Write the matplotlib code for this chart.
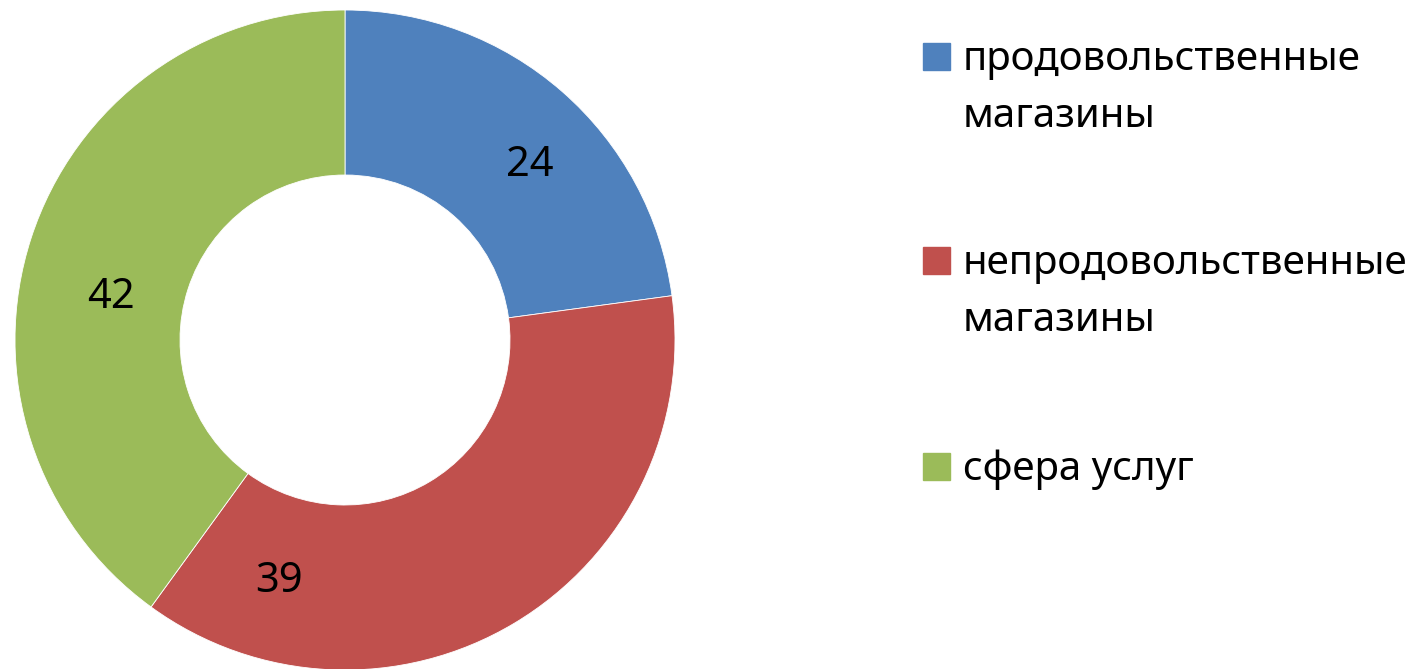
import matplotlib.pyplot as plt
from matplotlib.patches import Rectangle

categories = ["продовольственные\nмагазины", "непродовольственные\nмагазины", "сфера услуг"]
values = [24, 39, 42]
colors = ["#4F81BD", "#C0504D", "#9BBB59"]

W, H = 1428, 669
plt.rcParams['font.family'] = ['Noto Sans', 'DejaVu Sans']

fig = plt.figure(figsize=(W / 100, H / 100), dpi=100)

# donut: center (345, 340) px, outer radius ~330 px
cx, cy, r = 345, 340, 330
ax = fig.add_axes([(cx - r) / W, (H - cy - r) / H, 2 * r / W, 2 * r / H])
total = sum(values)
wedges, texts, autotexts = ax.pie(
    values, colors=colors, startangle=90, counterclock=False,
    radius=1.0, wedgeprops=dict(width=0.5, edgecolor="white", linewidth=0.6),
    autopct=lambda p: "%d" % round(p * total / 100), pctdistance=0.76,
    textprops=dict(fontsize=30, color="black"),
)
# Excel-style label placement (not at mid-angle)
label_pos = [(0.56, 0.53), (-0.20, -0.73), (-0.71, 0.13)]
for t, pos in zip(autotexts, label_pos):
    t.set_position(pos)
    t.set_ha("center")
    t.set_va("center")
ax.set_xlim(-1, 1)
ax.set_ylim(-1, 1)
ax.set_aspect("equal")
ax.axis("off")

# legend drawn by hand (square + wrapped label)
sq = 27
entry_y = [56, 260, 466]  # square centres, px from top
line_gap = 57
for name, col, y in zip(categories, colors, entry_y):
    fig.add_artist(Rectangle((923 / W, (H - y - sq / 2) / H), sq / W, sq / H,
                             transform=fig.transFigure, color=col))
    for i, line in enumerate(name.split("\n")):
        fig.text(963 / W, (H - (y + 14) - i * line_gap) / H, line,
                 fontsize=29, va="baseline", ha="left")

fig.savefig("out.png", dpi=100)
